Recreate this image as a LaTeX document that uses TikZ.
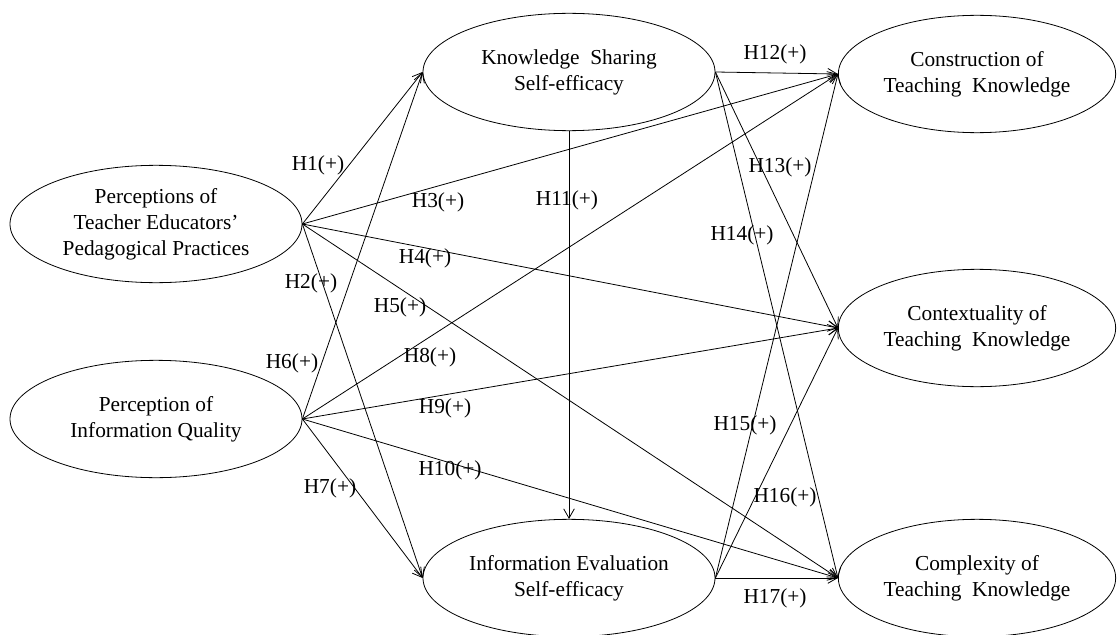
\documentclass[tikz,border=0pt]{standalone}
\usepackage{fontspec}
\setmainfont{Liberation Serif}
\usepackage{tikz}
\usetikzlibrary{shapes.geometric,arrows.meta}

\begin{document}
\begin{tikzpicture}[x=0.75pt,y=0.75pt,yscale=-1,xscale=1,
    construct/.style={draw,ellipse,inner sep=0pt,line width=0.6pt,align=center,
        minimum width=219pt,minimum height=88pt,font=\fontsize{16}{19.5}\selectfont},
    outcome/.style={construct,minimum width=208pt},
    hyp/.style={inner sep=0.75pt,font=\fontsize{16}{19.5}\selectfont},
    path/.style={line width=0.6pt,-{Straight Barb[length=7pt,width=8pt]}}]
    \useasboundingbox (0,0) rectangle (1118,635);

    %Ellipses
    \node [construct] (tepp) at (156,224) {Perceptions of\\Teacher Educators'\\Pedagogical Practices};
    \node [construct] (piq) at (156,419) {Perception of\\Information Quality};
    \node [construct] (kss) at (569,72) {Knowledge\ \ Sharing\\Self-efficacy};
    \node [construct] (ies) at (569,578) {Information Evaluation\\Self-efficacy};
    \node [outcome] (ctk) at (977,74) {Construction of\\Teaching\ \ Knowledge};
    \node [outcome] (xtk) at (977,328) {Contextuality of\\Teaching\ \ Knowledge};
    \node [outcome] (mtk) at (977,578) {Complexity of\\Teaching\ \ Knowledge};

    %Paths from the two perceptions
    \draw [path] (tepp.east) -- (kss.west);
    \draw [path] (tepp.east) -- (ies.west);
    \draw [path] (tepp.east) -- (ctk.west);
    \draw [path] (tepp.east) -- (xtk.west);
    \draw [path] (tepp.east) -- (mtk.west);
    \draw [path] (piq.east) -- (kss.west);
    \draw [path] (piq.east) -- (ies.west);
    \draw [path] (piq.east) -- (ctk.west);
    \draw [path] (piq.east) -- (xtk.west);
    \draw [path] (piq.east) -- (mtk.west);

    %Paths from the two self-efficacies
    \draw [path] (kss.south) -- (ies.north);
    \draw [path] (kss.east) -- (ctk.west);
    \draw [path] (kss.east) -- (xtk.west);
    \draw [path] (kss.east) -- (mtk.west);
    \draw [path] (ies.east) -- (ctk.west);
    \draw [path] (ies.east) -- (xtk.west);
    \draw [path] (ies.east) -- (mtk.west);

    % Text Nodes
    \node [hyp] (h1) at (318,165) {H1(+)};
    \node [hyp] (h2) at (311,283) {H2(+)};
    \node [hyp] (h3) at (438,202) {H3(+)};
    \node [hyp] (h4) at (425,258) {H4(+)};
    \node [hyp] (h5) at (400,307) {H5(+)};
    \node [hyp] (h6) at (292,363) {H6(+)};
    \node [hyp] (h7) at (330,488) {H7(+)};
    \node [hyp] (h8) at (430,357) {H8(+)};
    \node [hyp] (h9) at (445,408) {H9(+)};
    \node [hyp] (h10) at (450,470) {H10(+)};
    \node [hyp] (h11) at (567,200) {H11(+)};
    \node [hyp] (h12) at (775,54) {H12(+)};
    \node [hyp] (h13) at (780,167) {H13(+)};
    \node [hyp] (h14) at (742,235) {H14(+)};
    \node [hyp] (h15) at (745,425) {H15(+)};
    \node [hyp] (h16) at (785,497) {H16(+)};
    \node [hyp] (h17) at (775,598) {H17(+)};
\end{tikzpicture}
\end{document}
